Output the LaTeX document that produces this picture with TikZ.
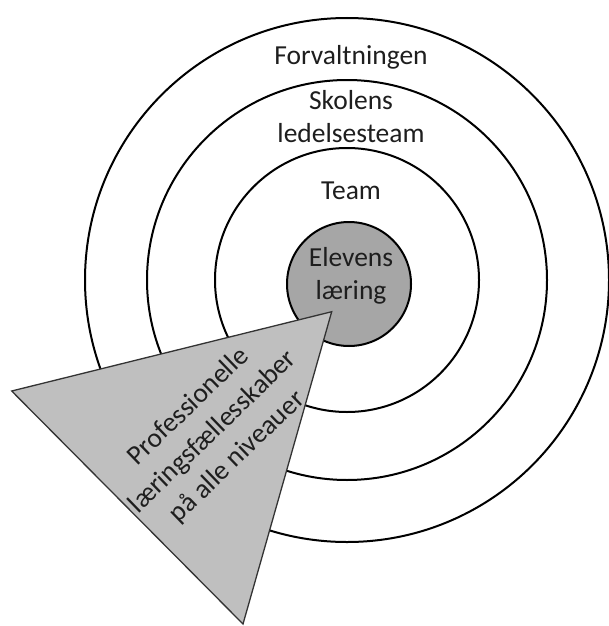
\documentclass[tikz,border=0pt]{standalone}
\usepackage{fontspec}
\setmainfont{Carlito}
\usetikzlibrary{positioning}

\definecolor{corefill}{RGB}{166,166,166}
\definecolor{wedgefill}{RGB}{191,191,191}
\definecolor{inkgray}{RGB}{30,30,30}

\begin{document}
\begin{tikzpicture}[
		x=1pt, y=-1pt,
		ring/.style={draw, circle, line width=2pt, inner sep=0pt, fill=white},
		core/.style={ring, fill=corefill},
		wedge/.style={draw=black!80, line width=1.3pt, fill=wedgefill, line join=miter},
		txt/.style={font=\fontsize{27.5}{33}\selectfont, text=inkgray, align=center, inner sep=0pt}
	]
	
		\useasboundingbox (0,0) rectangle (608,626);
		
		% Rings
		\node[ring, minimum size=524pt] (forv) at (347,280) {};
		\node[ring, minimum size=400pt] (skole) at (347,280) {};
		\node[ring, minimum size=264pt] (team) at (347,280) {};
		\node[core, minimum size=124pt] (elev) at (349,284) {};
		
		% Labels
		\node[txt] (forvtxt) at (351,57) {Forvaltningen};
		\node[txt] (skoletxt) at (351,117) {Skolens\\ledelsesteam};
		\node[txt] (teamtxt) at (351,191) {Team};
		\node[txt] (elevtxt) at (351,276) {Elevens\\læring};
		
		% Triangle
		\coordinate (tipR) at (331.7,311.7);
		\coordinate (tipL) at (11.7,391);
		\coordinate (tipB) at (243,624);
		\draw[wedge] (tipR) -- (tipL) -- (tipB) -- cycle;
		\node[txt, rotate=44, font=\fontsize{27.5}{35}\selectfont] (plftxt) at (213,432) {Professionelle\\læringsfællesskaber\\på alle niveauer};
		
	\end{tikzpicture}
\end{document}
